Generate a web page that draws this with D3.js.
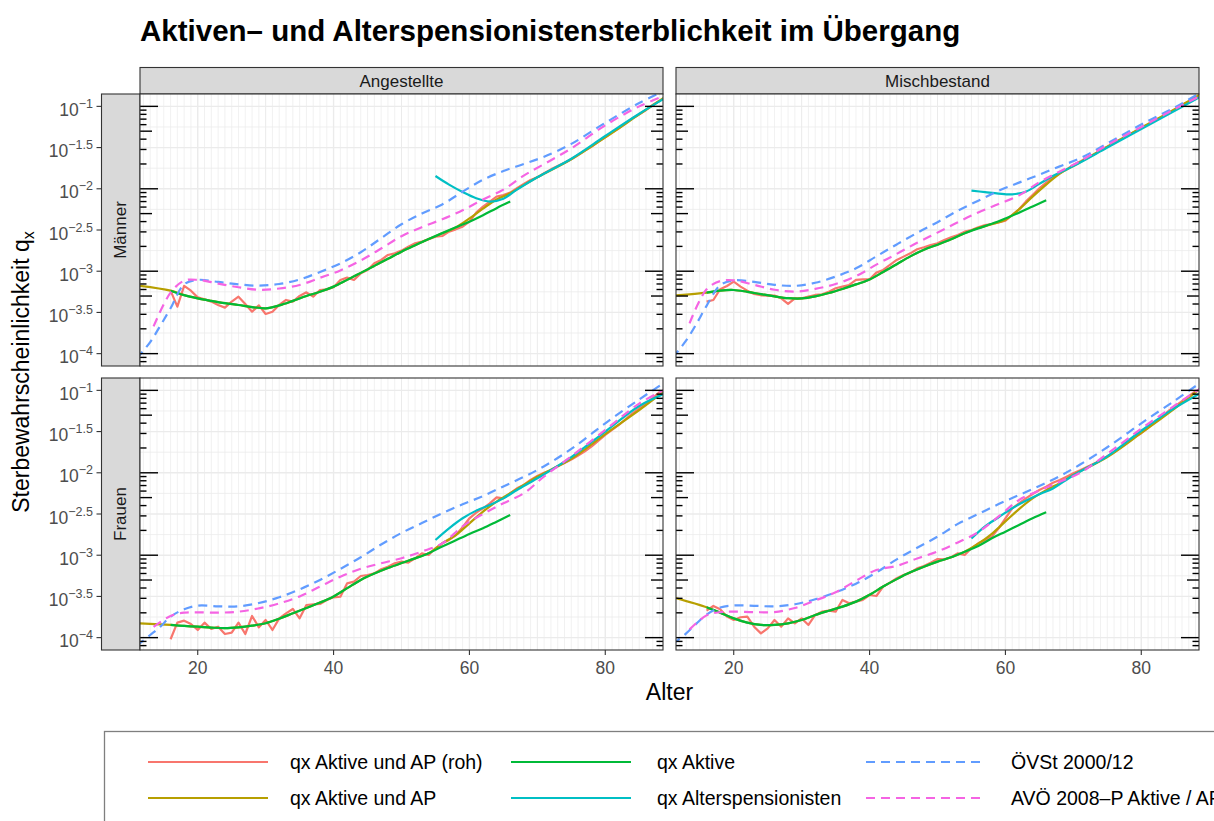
<!DOCTYPE html>
<html>
<head>
<meta charset="utf-8">
<script src="https://cdn.jsdelivr.net/npm/d3@7"></script>
<style>
  body { margin: 0; background: #fff; }
  svg { display: block; font-family: "Liberation Sans", Arial, Helvetica, sans-serif; }
</style>
</head>
<body>
<svg id="chart" width="1214" height="821"></svg>
<script>
// ---------------------------------------------------------------
// Data: mortality q_x by age, stored as log10(q_x)
// ---------------------------------------------------------------
const colLabels = ["Angestellte", "Mischbestand"];
const rowLabels = ["Männer", "Frauen"];

// ages (x values) of each series
const ageRaw = d3.range(16, 89);                       // 16 … 88
const ageAP = [11, 16, 18, 20, 22, 24, 26, 28, 30, 32, 34, 36, 38, 40, 42, 44, 46, 48, 50, 52, 54,
               56, 58, 60, 62, 64, 66, 68, 70, 75, 80, 85, 89];
const ageAktive = [16, 18, 20, 22, 24, 26, 28, 30, 32, 34, 36, 38, 40, 42, 44, 46, 48, 50, 52, 54,
                   56, 58, 60, 62, 64, 66];
const ageAltersp = [55, 57, 59, 61, 63, 65, 67, 70, 75, 80, 85, 89];
const ageOEVSt = [11, 13, 14.5, 16, 18, 20, 23, 26, 29, 32, 35, 38, 41, 44, 47, 50, 53, 56, 59, 62,
                  65, 68, 71, 75, 80, 85, 89];
const ageAVOE = [13.5, 16, 18, 20, 23, 26, 29, 32, 35, 38, 41, 44, 47, 50, 53, 56, 59, 62, 65, 68,
                 71, 75, 80, 85, 89];

// Angestellte – Männer
const rawAM = [-3.236, -3.43, -3.179, -3.236, -3.317, -3.341, -3.369, -3.41, -3.442, -3.369,
  -3.309, -3.398, -3.491, -3.414, -3.519, -3.491, -3.41, -3.349, -3.369, -3.30,
  -3.256, -3.309, -3.228, -3.22, -3.195, -3.106, -3.078, -3.106, -3.026, -2.985,
  -2.904, -2.864, -2.803, -2.783, -2.75, -2.702, -2.662, -2.641, -2.613, -2.581,
  -2.573, -2.52, -2.492, -2.459, -2.399, -2.29, -2.217, -2.156, -2.095, -2.075,
  -2.047, -1.994, -1.942, -1.893, -1.861, -1.812, -1.764, -1.723, -1.683, -1.642,
  -1.59, -1.537, -1.489, -1.428, -1.376, -1.319, -1.266, -1.206, -1.145, -1.097,
  -1.044, -0.983, -0.931];
const apAM = [-3.173, -3.236, -3.29, -3.329, -3.36, -3.388, -3.41, -3.435, -3.45, -3.415, -3.36,
  -3.30, -3.25, -3.187, -3.105, -3.02, -2.935, -2.85, -2.763, -2.685, -2.61,
  -2.54, -2.47, -2.36, -2.24, -2.13, -2.055, -1.955, -1.861, -1.642, -1.376, -1.097, -0.875];
const aktAM = [-3.236, -3.29, -3.329, -3.36, -3.388, -3.41, -3.435, -3.45, -3.415, -3.36,
  -3.30, -3.25, -3.187, -3.105, -3.02, -2.935, -2.85, -2.763, -2.685, -2.61,
  -2.538, -2.468, -2.399, -2.32, -2.235, -2.155];
const altAM = [-1.845, -1.95, -2.04, -2.115, -2.155, -2.12, -2.01, -1.86, -1.635, -1.36, -1.09, -0.89];
const oevAM = [-4.06, -3.86, -3.66, -3.45, -3.16, -3.105, -3.13, -3.16, -3.175, -3.155, -3.10,
  -3.01, -2.905, -2.77, -2.60, -2.43, -2.30, -2.19, -2.035, -1.89, -1.785, -1.70, -1.61,
  -1.455, -1.20, -0.96, -0.80];
const avoAM = [-3.67, -3.26, -3.115, -3.105, -3.15, -3.195, -3.225, -3.21, -3.167, -3.08, -2.99,
  -2.87, -2.725, -2.575, -2.465, -2.37, -2.26, -2.13, -2.01, -1.84, -1.70, -1.51, -1.23,
  -1.00, -0.86];

// Mischbestand – Männer
const rawMM = [-3.369, -3.349, -3.219, -3.179, -3.126, -3.187, -3.236, -3.276, -3.292, -3.296,
  -3.296, -3.329, -3.397, -3.329, -3.329, -3.308, -3.288, -3.28, -3.248, -3.207,
  -3.187, -3.167, -3.106, -3.098, -3.098, -3.017, -2.985, -2.924, -2.863, -2.823,
  -2.783, -2.734, -2.71, -2.682, -2.661, -2.621, -2.589, -2.56, -2.52, -2.50,
  -2.467, -2.439, -2.427, -2.407, -2.386, -2.318, -2.249, -2.156, -2.075, -1.994,
  -1.925, -1.861, -1.812, -1.764, -1.711, -1.67, -1.62, -1.585, -1.53, -1.49,
  -1.44, -1.40, -1.35, -1.31, -1.26, -1.22, -1.17, -1.13, -1.08, -1.035,
  -0.98, -0.94, -0.89];
const apMM = [-3.296, -3.26, -3.235, -3.228, -3.25, -3.278, -3.305, -3.327, -3.33, -3.305, -3.265,
  -3.215, -3.16, -3.10, -3.01, -2.915, -2.82, -2.74, -2.678, -2.613, -2.54,
  -2.475, -2.43, -2.375, -2.25, -2.095, -1.95, -1.815, -1.725, -1.49, -1.26, -1.03, -0.84];
const aktMM = [-3.26, -3.235, -3.228, -3.25, -3.278, -3.305, -3.327, -3.33, -3.305, -3.265,
  -3.215, -3.16, -3.10, -3.01, -2.915, -2.82, -2.74, -2.678, -2.613, -2.54,
  -2.48, -2.425, -2.36, -2.29, -2.215, -2.14];
const altMM = [-2.022, -2.04, -2.058, -2.067, -2.035, -1.94, -1.845, -1.725, -1.50, -1.275, -1.05, -0.87];
const oevMM = [-4.05, -3.84, -3.64, -3.42, -3.17, -3.112, -3.13, -3.165, -3.178, -3.14, -3.065,
  -2.965, -2.82, -2.675, -2.535, -2.405, -2.265, -2.145, -2.025, -1.925, -1.828, -1.728,
  -1.63, -1.45, -1.22, -1.01, -0.82];
const avoMM = [-3.632, -3.22, -3.12, -3.11, -3.165, -3.225, -3.248, -3.215, -3.155, -3.06, -2.92,
  -2.79, -2.655, -2.532, -2.405, -2.287, -2.185, -2.08, -1.92, -1.79, -1.665, -1.47, -1.25,
  -1.03, -0.86];

// Angestellte – Frauen
const rawAF = [-4.02, -3.818, -3.794, -3.834, -3.907, -3.818, -3.895, -3.867, -3.956, -3.94,
  -3.818, -3.956, -3.737, -3.875, -3.786, -3.907, -3.766, -3.705, -3.652, -3.766,
  -3.604, -3.596, -3.592, -3.543, -3.511, -3.503, -3.341, -3.32, -3.252, -3.24,
  -3.22, -3.171, -3.139, -3.098, -3.078, -3.09, -3.038, -2.977, -2.997, -2.916,
  -2.856, -2.815, -2.755, -2.661, -2.552, -2.484, -2.431, -2.371, -2.298, -2.31,
  -2.249, -2.188, -2.148, -2.087, -2.039, -2.00, -1.97, -1.92, -1.88, -1.84,
  -1.79, -1.74, -1.68, -1.61, -1.54, -1.48, -1.42, -1.35, -1.28, -1.22,
  -1.16, -1.09, -1.02];
const apAF = [-3.826, -3.846, -3.858, -3.867, -3.878, -3.885, -3.875, -3.855, -3.826, -3.77, -3.705,
  -3.64, -3.575, -3.50, -3.40, -3.30, -3.222, -3.155, -3.095, -3.038, -2.975,
  -2.856, -2.755, -2.613, -2.471, -2.35, -2.249, -2.148, -2.047, -1.83, -1.53, -1.24, -0.99];
const aktAF = [-3.846, -3.858, -3.867, -3.878, -3.885, -3.875, -3.855, -3.826, -3.77, -3.705,
  -3.64, -3.575, -3.50, -3.40, -3.30, -3.222, -3.155, -3.095, -3.038, -2.975,
  -2.895, -2.818, -2.742, -2.672, -2.593, -2.512];
const altAF = [-2.815, -2.674, -2.552, -2.459, -2.391, -2.31, -2.209, -2.067, -1.81, -1.50, -1.19, -1.03];
const oevAF = [-4.10, -3.968, -3.867, -3.745, -3.656, -3.612, -3.62, -3.62, -3.58, -3.51, -3.415,
  -3.30, -3.166, -3.025, -2.87, -2.73, -2.61, -2.49, -2.383, -2.282, -2.165, -2.05, -1.92,
  -1.71, -1.40, -1.11, -0.89];
const avoAF = [-3.87, -3.737, -3.697, -3.693, -3.697, -3.685, -3.645, -3.585, -3.50, -3.38, -3.26,
  -3.165, -3.098, -3.037, -2.955, -2.856, -2.65, -2.50, -2.37, -2.249, -2.045, -1.80, -1.48,
  -1.16, -0.98];

// Mischbestand – Frauen
const rawMF = [-3.673, -3.616, -3.656, -3.745, -3.786, -3.753, -3.745, -3.867, -3.948, -3.887,
  -3.786, -3.867, -3.766, -3.826, -3.766, -3.846, -3.725, -3.685, -3.673, -3.685,
  -3.543, -3.584, -3.563, -3.543, -3.483, -3.495, -3.381, -3.333, -3.28, -3.24,
  -3.212, -3.159, -3.131, -3.09, -3.046, -3.05, -3.025, -2.977, -2.997, -2.916,
  -2.856, -2.815, -2.775, -2.674, -2.552, -2.431, -2.37, -2.31, -2.257, -2.209,
  -2.168, -2.12, -2.087, -2.047, -2.006, -1.97, -1.93, -1.89, -1.85, -1.80,
  -1.75, -1.69, -1.62, -1.57, -1.52, -1.455, -1.39, -1.32, -1.25, -1.19,
  -1.13, -1.07, -1.01];
const apMF = [-3.51, -3.632, -3.697, -3.766, -3.818, -3.846, -3.846, -3.826, -3.786, -3.725, -3.673,
  -3.624, -3.563, -3.48, -3.38, -3.29, -3.208, -3.139, -3.078, -3.025, -2.957,
  -2.86, -2.74, -2.59, -2.44, -2.31, -2.21, -2.125, -2.025, -1.808, -1.517, -1.214, -0.96];
const aktMF = [-3.632, -3.697, -3.766, -3.818, -3.846, -3.846, -3.826, -3.786, -3.725, -3.673,
  -3.624, -3.563, -3.48, -3.38, -3.29, -3.208, -3.139, -3.078, -3.025, -2.957,
  -2.888, -2.795, -2.714, -2.633, -2.552, -2.48];
const altMF = [-2.797, -2.65, -2.54, -2.43, -2.34, -2.26, -2.19, -2.03, -1.80, -1.49, -1.21, -1.02];
const oevMF = [-4.08, -3.948, -3.83, -3.72, -3.635, -3.61, -3.614, -3.62, -3.595, -3.535, -3.45,
  -3.345, -3.21, -3.05, -2.91, -2.775, -2.62, -2.50, -2.38, -2.27, -2.16, -2.04, -1.90,
  -1.69, -1.40, -1.12, -0.89];
const avoMF = [-3.9, -3.73, -3.69, -3.685, -3.69, -3.69, -3.64, -3.55, -3.45, -3.31, -3.18,
  -3.13, -3.04, -2.955, -2.845, -2.72, -2.53, -2.33, -2.215, -2.11, -2.00, -1.77, -1.465,
  -1.18, -0.96];

const xTicks = [20, 40, 60, 80];
const yTickExp = [-1, -1.5, -2, -2.5, -3, -3.5, -4];
const seriesNames = ["qx Aktive und AP (roh)", "qx Aktive und AP", "qx Aktive",
                     "qx Alterspensionisten", "ÖVSt 2000/12", "AVÖ 2008–P Aktive / AP"];

// ---------------------------------------------------------------
// Layout
// ---------------------------------------------------------------
const svg = d3.select("#chart");
const colX = [140, 676], rowY = [94, 378];
const pw = 523, ph = 272;

const x = d3.scaleLinear().domain([11.5, 88.5]).range([0, pw]);
const y = d3.scaleLog().domain([Math.pow(10, -4.15), Math.pow(10, -0.85)]).range([ph, 0]);

const series = [
  {key: "raw",     ages: ageRaw,     color: "#F8766D", dash: null,  curve: d3.curveLinear},
  {key: "ap",      ages: ageAP,      color: "#B79F00", dash: null,  curve: d3.curveCatmullRom},
  {key: "aktive",  ages: ageAktive,  color: "#00BA38", dash: null,  curve: d3.curveCatmullRom},
  {key: "altersp", ages: ageAltersp, color: "#00BFC4", dash: null,  curve: d3.curveCatmullRom},
  {key: "oevst",   ages: ageOEVSt,   color: "#619CFF", dash: "9,6", curve: d3.curveCatmullRom},
  {key: "avoe",    ages: ageAVOE,    color: "#F564E3", dash: "9,6", curve: d3.curveCatmullRom}
];

const panels = [
  {c: 0, r: 0, raw: rawAM, ap: apAM, aktive: aktAM, altersp: altAM, oevst: oevAM, avoe: avoAM},
  {c: 1, r: 0, raw: rawMM, ap: apMM, aktive: aktMM, altersp: altMM, oevst: oevMM, avoe: avoMM},
  {c: 0, r: 1, raw: rawAF, ap: apAF, aktive: aktAF, altersp: altAF, oevst: oevAF, avoe: avoAF},
  {c: 1, r: 1, raw: rawMF, ap: apMF, aktive: aktMF, altersp: altMF, oevst: oevMF, avoe: avoMF}
];

// title
svg.append("text")
  .attr("x", 140).attr("y", 41)
  .attr("font-size", 29.5).attr("font-weight", "bold").attr("fill", "#000")
  .text("Aktiven– und Alterspensionistensterblichkeit im Übergang");

// column strips
colLabels.forEach((lab, c) => {
  svg.append("rect").attr("x", colX[c]).attr("y", 67.5).attr("width", pw).attr("height", rowY[0] - 67.5)
    .attr("fill", "#d9d9d9").attr("stroke", "#333").attr("stroke-width", 1.1);
  svg.append("text").attr("x", colX[c] + pw / 2).attr("y", 81)
    .attr("text-anchor", "middle").attr("dominant-baseline", "central")
    .attr("font-size", 17).attr("fill", "#1a1a1a").text(lab);
});

// row strips
rowLabels.forEach((lab, r) => {
  svg.append("rect").attr("x", 101.5).attr("y", rowY[r]).attr("width", 38.5).attr("height", ph)
    .attr("fill", "#d9d9d9").attr("stroke", "#333").attr("stroke-width", 1.1);
  svg.append("text")
    .attr("transform", `translate(120.75,${rowY[r] + ph / 2}) rotate(-90)`)
    .attr("text-anchor", "middle").attr("dominant-baseline", "central")
    .attr("font-size", 17).attr("fill", "#1a1a1a").text(lab);
});

const defs = svg.append("defs");
const lineGen = (ages, curve) => d3.line()
  .defined(d => d != null)
  .x((d, i) => x(ages[i]))
  .y(d => y(Math.pow(10, d)))
  .curve(curve);

panels.forEach((p, idx) => {
  const g = svg.append("g").attr("transform", `translate(${colX[p.c]},${rowY[p.r]})`);
  const clipId = "clip" + idx;
  defs.append("clipPath").attr("id", clipId)
    .append("rect").attr("width", pw).attr("height", ph);

  g.append("rect").attr("width", pw).attr("height", ph).attr("fill", "#fff");

  // minor grid: every year, quarter decades
  const gridG = g.append("g");
  d3.range(12, 89).filter(a => !xTicks.includes(a)).forEach(a => {
    gridG.append("line").attr("x1", x(a)).attr("x2", x(a)).attr("y1", 0).attr("y2", ph)
      .attr("stroke", "#ebebeb").attr("stroke-width", a % 10 === 0 ? 1.0 : 0.7);
  });
  [-1.25, -1.75, -2.25, -2.75, -3.25, -3.75].forEach(e => {
    gridG.append("line").attr("x1", 0).attr("x2", pw).attr("y1", y(Math.pow(10, e))).attr("y2", y(Math.pow(10, e)))
      .attr("stroke", "#ebebeb").attr("stroke-width", 0.8);
  });
  // major grid
  xTicks.forEach(a => {
    gridG.append("line").attr("x1", x(a)).attr("x2", x(a)).attr("y1", 0).attr("y2", ph)
      .attr("stroke", "#ebebeb").attr("stroke-width", 1.4);
  });
  yTickExp.forEach(e => {
    gridG.append("line").attr("x1", 0).attr("x2", pw).attr("y1", y(Math.pow(10, e))).attr("y2", y(Math.pow(10, e)))
      .attr("stroke", "#ebebeb").attr("stroke-width", 1.4);
  });

  // data lines
  const lg = g.append("g").attr("clip-path", `url(#${clipId})`);
  series.forEach(s => {
    lg.append("path")
      .datum(p[s.key])
      .attr("d", lineGen(s.ages, s.curve))
      .attr("fill", "none")
      .attr("stroke", s.color)
      .attr("stroke-width", 2.2)
      .attr("stroke-linejoin", "round")
      .attr("stroke-dasharray", s.dash);
  });

  // log ticks on left and right sides
  const tg = g.append("g");
  for (let n = -5; n <= -1; n++) {
    for (let k = 1; k <= 9; k++) {
      const v = k * Math.pow(10, n);
      if (v < y.domain()[0] || v > y.domain()[1]) continue;
      const len = k === 1 ? 18 : (k === 5 ? 12 : 6.5);
      const yy = y(v);
      tg.append("line").attr("x1", 0).attr("x2", len).attr("y1", yy).attr("y2", yy)
        .attr("stroke", "#000").attr("stroke-width", 1.4);
      tg.append("line").attr("x1", pw - len).attr("x2", pw).attr("y1", yy).attr("y2", yy)
        .attr("stroke", "#000").attr("stroke-width", 1.4);
    }
  }

  // panel border
  g.append("rect").attr("width", pw).attr("height", ph)
    .attr("fill", "none").attr("stroke", "#333").attr("stroke-width", 1.1);

  // y axis (left column only)
  if (p.c === 0) {
    yTickExp.forEach(e => {
      const yy = rowY[p.r] + y(Math.pow(10, e));
      svg.append("line").attr("x1", 96.5).attr("x2", 101.5).attr("y1", yy).attr("y2", yy)
        .attr("stroke", "#333").attr("stroke-width", 1.1);
      const t = svg.append("text").attr("x", 93).attr("y", yy + 9.5)
        .attr("text-anchor", "end").attr("fill", "#4d4d4d").attr("font-size", 17.5);
      t.append("tspan").text("10");
      t.append("tspan").attr("dy", -8).attr("font-size", 12.5).text("−" + String(-e));
    });
  }
  // x axis (bottom row only)
  if (p.r === 1) {
    xTicks.forEach(a => {
      const xx = colX[p.c] + x(a);
      svg.append("line").attr("x1", xx).attr("x2", xx).attr("y1", rowY[1] + ph).attr("y2", rowY[1] + ph + 5)
        .attr("stroke", "#333").attr("stroke-width", 1.1);
      svg.append("text").attr("x", xx).attr("y", 674).attr("text-anchor", "middle")
        .attr("fill", "#4d4d4d").attr("font-size", 17.5).text(a);
    });
  }
});

// axis titles
svg.append("text").attr("x", (colX[0] + colX[1] + pw) / 2).attr("y", 700)
  .attr("text-anchor", "middle").attr("font-size", 23).attr("fill", "#000").text("Alter");
const yt = svg.append("text")
  .attr("transform", `translate(29,${(rowY[0] + rowY[1] + ph) / 2}) rotate(-90)`)
  .attr("text-anchor", "middle").attr("font-size", 23).attr("fill", "#000");
yt.append("tspan").text("Sterbewahrscheinlichkeit q");
yt.append("tspan").attr("dy", 5).attr("font-size", 16).text("x");

// legend
const leg = svg.append("g");
leg.append("rect").attr("x", 104.5).attr("y", 731.5).attr("width", 1300).attr("height", 200)
  .attr("fill", "#fff").attr("stroke", "#7f7f7f").attr("stroke-width", 1.3);
const legCols = [{x1: 148, tx: 290}, {x1: 511, tx: 657}, {x1: 866, tx: 1011}];
const legRows = [762, 798];
series.forEach((s, i) => {
  const c = Math.floor(i / 2), r = i % 2;
  const yy = legRows[r];
  leg.append("line").attr("x1", legCols[c].x1).attr("x2", legCols[c].x1 + 120)
    .attr("y1", yy).attr("y2", yy)
    .attr("stroke", s.color).attr("stroke-width", 2.2).attr("stroke-dasharray", s.dash);
  leg.append("text").attr("x", legCols[c].tx).attr("y", yy).attr("dominant-baseline", "central")
    .attr("font-size", 19.5).attr("fill", "#000").text(seriesNames[i]);
});
</script>
</body>
</html>
